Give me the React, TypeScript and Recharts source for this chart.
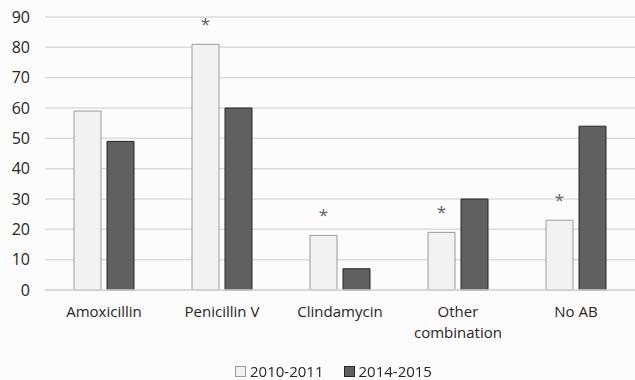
import { BarChart, Bar, XAxis, YAxis, CartesianGrid, LabelList, Text } from 'recharts'

const categories = ['Amoxicillin', 'Penicillin V', 'Clindamycin', 'Other combination', 'No AB']
const period1 = [59, 81, 18, 19, 23]
const period2 = [49, 60, 7, 30, 54]
const significant = [false, true, true, true, true]
const yTicks = [0, 10, 20, 30, 40, 50, 60, 70, 80, 90]

const SERIES = [
  { key: 'p1', name: '2010-2011', fill: '#f2f2f2', stroke: '#9a9a9a' },
  { key: 'p2', name: '2014-2015', fill: '#606060', stroke: '#262626' },
]

const FONT = '"Open Sans", "Noto Sans", sans-serif'

const data = categories.map((c, i) => ({ name: c, p1: period1[i], p2: period2[i], sig: significant[i] }))

const XTick = (props: any) => {
  const { x, y, payload } = props
  return (
    <Text x={x} y={y + 8} width={110} textAnchor="middle" verticalAnchor="start" lineHeight={21}
      fontSize={15} fill="#262626" fontFamily={FONT}>
      {payload.value}
    </Text>
  )
}

// asterisk above the 2010-2011 bar when the change is significant
const Star = (props: any) => {
  const { x, y, width, index } = props
  if (!significant[index]) return null
  return (
    <text x={x + width / 2} y={y - 14} textAnchor="middle" fontSize={17} fill="#606060" fontFamily={FONT}>*</text>
  )
}

export default function App() {
  return (
    <div style={{ position: 'fixed', top: 0, left: 0, width: 635, height: 380, background: '#fcfcfc', fontFamily: FONT }}>
      <BarChart width={635} height={380} data={data}
        margin={{ top: 17, right: 0, left: 0, bottom: 50 }}
        barCategoryGap={29} barGap={6}>
        <CartesianGrid vertical={false} stroke="#dcdcdc" strokeWidth={1.5} />
        <XAxis dataKey="name" height={40} axisLine={{ stroke: '#d6d6d6', strokeWidth: 1.5 }} tickLine={false}
          interval={0} tick={<XTick />} />
        <YAxis width={45} domain={[0, 90]} ticks={yTicks} axisLine={false} tickLine={false}
          tickSize={0} tickMargin={15} tick={{ fontSize: 16, fill: '#262626', fontFamily: FONT }} />
        {SERIES.map(s => (
          <Bar key={s.key} dataKey={s.key} name={s.name} fill={s.fill} stroke={s.stroke} strokeWidth={1}
            isAnimationActive={false}>
            {s.key === 'p1' && <LabelList dataKey="p1" content={<Star />} />}
          </Bar>
        ))}
      </BarChart>
      <div style={{ position: 'absolute', top: 362, left: 16, width: 635, display: 'flex', justifyContent: 'center', gap: 20, fontSize: 15, lineHeight: '18px', color: '#262626' }}>
        {SERIES.map(s => (
          <span key={s.key} style={{ display: 'flex', alignItems: 'center' }}>
            <span style={{ display: 'inline-block', width: 9, height: 9, background: s.fill, border: `1px solid ${s.stroke}`, marginRight: 4 }} />
            {s.name}
          </span>
        ))}
      </div>
    </div>
  )
}
